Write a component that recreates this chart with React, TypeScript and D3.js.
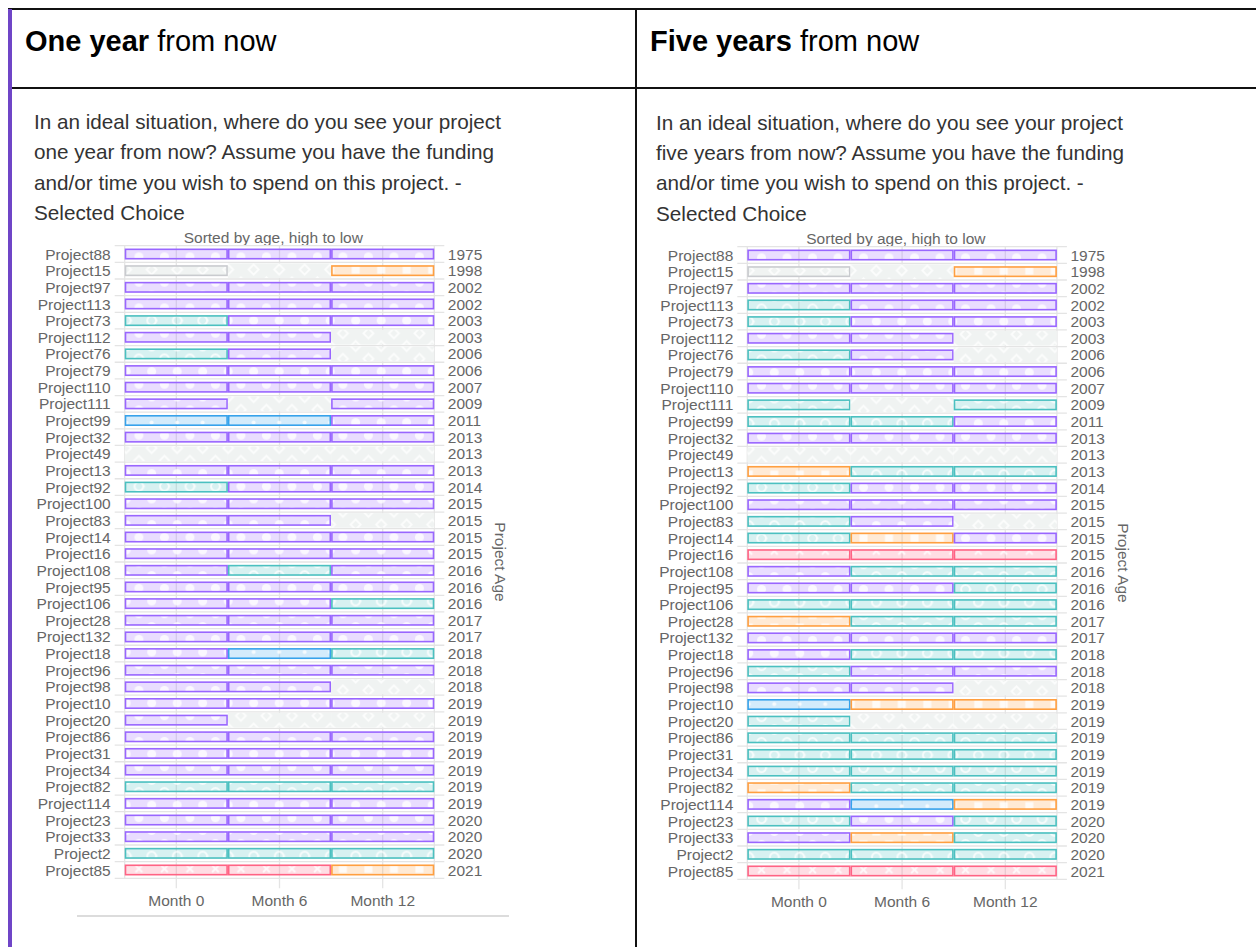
import React from "react";
import * as d3 from "d3";

const projects = ["Project88","Project15","Project97","Project113","Project73","Project112","Project76","Project79","Project110","Project111","Project99","Project32","Project49","Project13","Project92","Project100","Project83","Project14","Project16","Project108","Project95","Project106","Project28","Project132","Project18","Project96","Project98","Project10","Project20","Project86","Project31","Project34","Project82","Project114","Project23","Project33","Project2","Project85"];
const projectYears = [1975,1998,2002,2002,2003,2003,2006,2006,2007,2009,2011,2013,2013,2013,2014,2015,2015,2015,2015,2016,2016,2016,2017,2017,2018,2018,2018,2019,2019,2019,2019,2019,2019,2019,2020,2020,2020,2021];
const months = ["Month 0", "Month 6", "Month 12"];
// status code per month: P purple, T teal, B blue, O orange, R red, G grey, E no answer
const oneYearStatus = ["PPP","GEO","PPP","PPP","TPP","PPE","TPE","PPP","PPP","PEP","BBP","PPP","EEE","PPP","TPP","PPP","PPE","PPP","PPP","PTP","PPP","PPT","PPP","PPP","PBT","PPP","PPE","PPP","PEE","PPP","PPP","PPP","TTT","PPP","PPP","PPP","TTT","RRO"];
const fiveYearStatus = ["PPP","GEO","PPP","TPP","TPP","PPE","TPE","PPP","PPP","TET","TTP","PPP","EEE","OTT","TPP","PPP","TPE","TOP","RRR","PTT","PPT","TTT","OTT","PPP","PTT","TPP","PPE","BOO","TEE","TTT","TTT","TTT","OTT","PBO","TPT","POT","TTT","RRR"];
const statusCodes = ["P","T","B","O","R","G","E"];
const statusColors = ["153,102,255","75,192,192","54,162,235","255,159,64","255,99,132","201,203,207","201,203,207"];
const statusShapes = ["disc","ring","dot","square","cross","diamond","diamond"];

const questionLines1 = ["In an ideal situation, where do you see your project","one year from now? Assume you have the funding","and/or time you wish to spend on this project. -","Selected Choice"];
const questionLines2 = ["In an ideal situation, where do you see your project","five years from now? Assume you have the funding","and/or time you wish to spend on this project. -","Selected Choice"];

const FONT = "'Liberation Sans', Arial, Helvetica, sans-serif";
const S = 25.5;
const PAT = "rgba(255,255,255,0.8)";
const LABEL = 15.5;

function Shape({ kind, cx, cy }: { kind: string; cx: number; cy: number }) {
  if (kind === "disc") return <circle cx={cx} cy={cy} r={4.5} fill={PAT} />;
  if (kind === "dot") return <circle cx={cx} cy={cy} r={2} fill={PAT} />;
  if (kind === "ring")
    return (
      <path
        d={`M${cx + S / 4 - 0.5},${cy}L${cx + 4.4},${cy}A4.4,4.4 0 1 1 ${cx - 4.4},${cy}A4.4,4.4 0 1 1 ${cx + 4.4},${cy}`}
        fill="none" stroke={PAT} strokeWidth={1.9} />
    );
  if (kind === "square") return <rect x={cx - 4} y={cy - 4} width={8} height={8} fill={PAT} />;
  if (kind === "cross")
    return <path d={`M${cx - 3.4},${cy - 3.4}L${cx + 3.4},${cy + 3.4}M${cx - 3.4},${cy + 3.4}L${cx + 3.4},${cy - 3.4}`} stroke={PAT} strokeWidth={2} fill="none" />;
  return <path d={`M${cx},${cy - 5}L${cx + 5},${cy}L${cx},${cy + 5}L${cx - 5},${cy}Z`} fill="none" stroke={PAT} strokeWidth={1.8} />;
}

function Chart({ ox, oy, id, status, showRule }: { ox: number; oy: number; id: string; status: string[]; showRule: boolean }) {
  const left = 124.7 + ox, right = 434.3 + ox, top = 245.7 + oy, bottom = 878.3 + oy;
  const x = d3.scaleBand<string>().domain(months).range([left, right]);
  const y = d3.scaleBand<string>().domain(projects).range([top, bottom]);
  const bw = y.bandwidth();
  const barH = 11;
  const sw = 1.6;
  const grid = "#e4e4e4";
  const px = 17.8 + ox, py = 8.2 + oy;
  return (
    <g>
      <defs>
        {statusCodes.map((c, i) => (
          <pattern key={c} id={`${id}-${c}`} patternUnits="userSpaceOnUse" width={S} height={S}
            patternTransform={`translate(${px},${py})`}>
            <rect width={S} height={S} fill={c === "E" || c === "G" ? "rgb(240,243,242)" : `rgba(${statusColors[i]},0.22)`} />
            <Shape kind={statusShapes[i]} cx={S / 4} cy={S / 4} />
            <Shape kind={statusShapes[i]} cx={(3 * S) / 4} cy={(3 * S) / 4} />
          </pattern>
        ))}
      </defs>
      <text x={273.3 + ox} y={242.5 + oy} textAnchor="middle" fontSize={LABEL} fill="#666" fontFamily={FONT}>Sorted by age, high to low</text>
      {d3.range(projects.length + 1).map((i) => (
        <line key={"h" + i} x1={left - 10} x2={right + 10} y1={top + i * bw} y2={top + i * bw} stroke={grid} strokeWidth={1.3} />
      ))}
      <line x1={left} x2={left} y1={top} y2={bottom} stroke={grid} strokeWidth={1.3} />
      <line x1={right} x2={right} y1={top} y2={bottom} stroke={grid} strokeWidth={1.3} />
      {months.map((m) => (
        <line key={m} x1={x(m)! + x.bandwidth() / 2} x2={x(m)! + x.bandwidth() / 2} y1={top} y2={bottom + 10} stroke={grid} strokeWidth={1.3} />
      ))}
      {projects.map((p, r) =>
        months.map((m, k) => {
          const code = status[r][k];
          const ci = statusCodes.indexOf(code);
          const x0 = x(m)!, w = x.bandwidth();
          const cy = y(p)! + bw / 2;
          if (code === "E") {
            const h = bw - 2;
            return <rect key={p + m} x={x0} y={cy - h / 2} width={w} height={h} fill={`url(#${id}-E)`} />;
          }
          return (
            <rect key={p + m} x={x0 + sw / 2} y={cy - barH / 2 + sw / 2} width={w - sw} height={barH - sw}
              fill={`url(#${id}-${code})`} stroke={`rgb(${statusColors[ci]})`} strokeWidth={sw} />
          );
        })
      )}
      {projects.map((p, r) => (
        <g key={"l" + p} fontFamily={FONT} fontSize={LABEL} fill="#666">
          <text x={left - 14} y={y(p)! + bw / 2} dy="0.36em" textAnchor="end">{p}</text>
          <text x={right + 13.5} y={y(p)! + bw / 2} dy="0.36em">{projectYears[r]}</text>
        </g>
      ))}
      {months.map((m) => (
        <text key={"t" + m} x={x(m)! + x.bandwidth() / 2} y={906 + oy} textAnchor="middle" fontFamily={FONT} fontSize={LABEL} fill="#666">{m}</text>
      ))}
      <text transform={`translate(${501 + ox},${(top + bottom) / 2}) rotate(90)`} dy="0.36em" textAnchor="middle" fontFamily={FONT} fontSize={LABEL} fill="#666">Project Age</text>
      {showRule && <line x1={77 + ox} x2={509 + ox} y1={916} y2={916} stroke="#d0d0d0" strokeWidth={1.5} />}
    </g>
  );
}

export default function App() {
  return (
    <svg width={1256} height={947} style={{ position: "absolute", left: 0, top: 0, background: "#fff" }}>
      <rect x={0} y={0} width={1256} height={947} fill="#fff" />
      <rect x={8} y={8} width={1248} height={2} fill="#111" />
      <rect x={8} y={9} width={4} height={938} fill="#6f45c7" />
      <rect x={12} y={87} width={1244} height={2} fill="#111" />
      <rect x={635} y={8} width={2} height={939} fill="#111" />
      <text x={25} y={51} fontSize={29} fill="#000" fontFamily={FONT}>
        <tspan fontWeight="bold">One year</tspan><tspan> from now</tspan>
      </text>
      <text x={650} y={51} fontSize={29} fill="#000" fontFamily={FONT}>
        <tspan fontWeight="bold">Five years</tspan><tspan> from now</tspan>
      </text>
      {questionLines1.map((l, i) => (
        <text key={"q1" + i} x={34} y={129 + i * 30.4} fontSize={20.7} fill="#333" fontFamily={FONT}>{l}</text>
      ))}
      {questionLines2.map((l, i) => (
        <text key={"q2" + i} x={656} y={129.5 + i * 30.4} fontSize={20.7} fill="#333" fontFamily={FONT}>{l}</text>
      ))}
      <Chart ox={0} oy={0} id="c1" status={oneYearStatus} showRule={true} />
      <Chart ox={622.6} oy={1} id="c2" status={fiveYearStatus} showRule={false} />
    </svg>
  );
}
